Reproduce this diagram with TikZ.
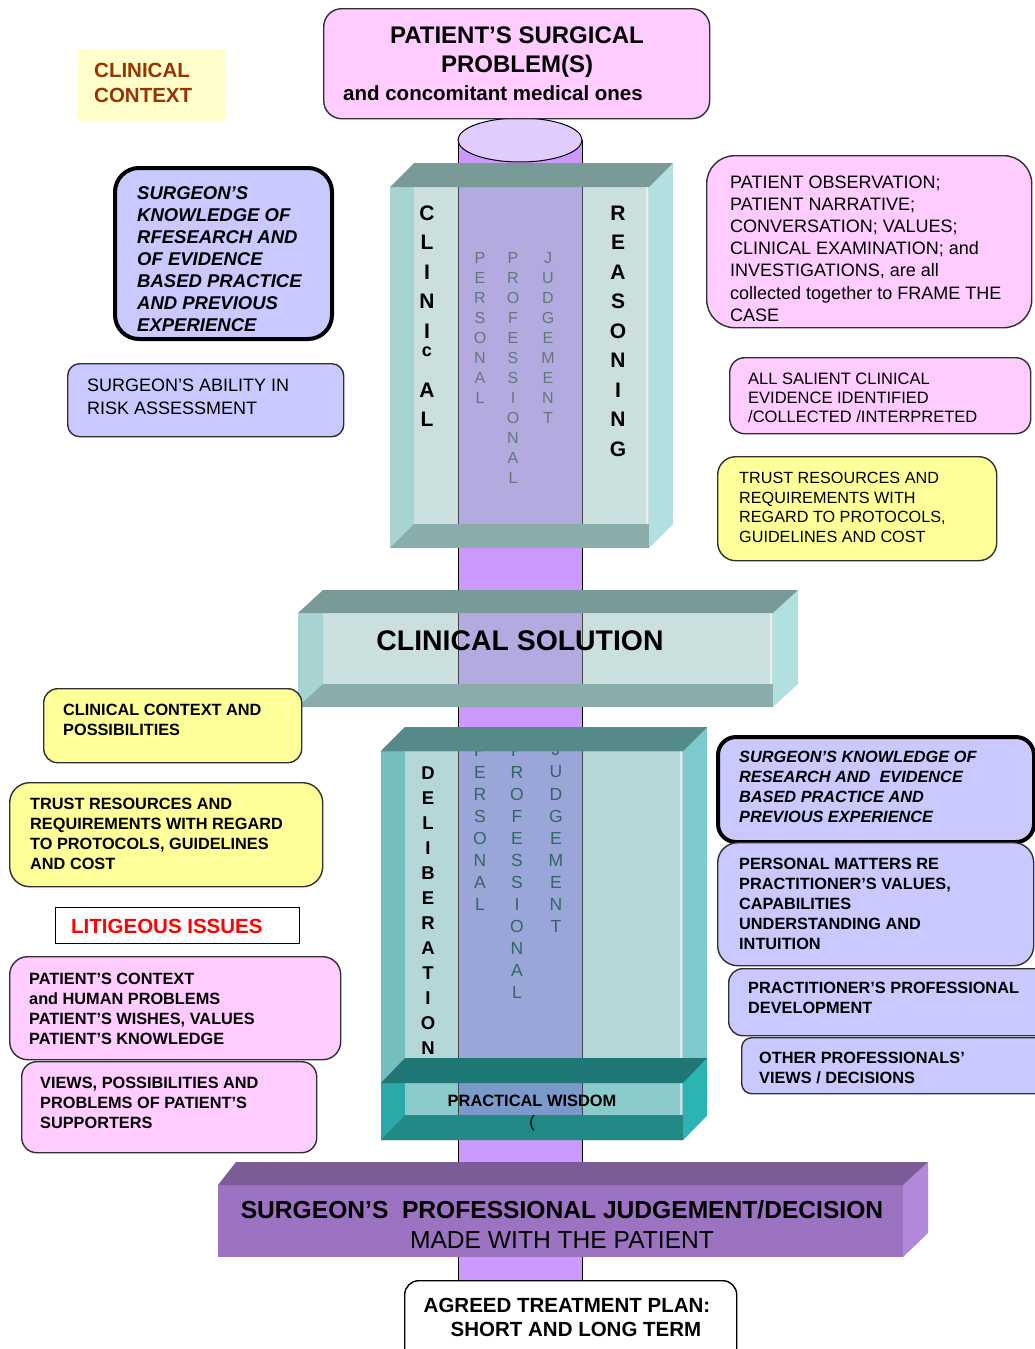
\documentclass[tikz,border=0pt]{standalone}
\usepackage{fontspec}
\setmainfont{Liberation Sans}

\definecolor{colPurple}{HTML}{CC99FF}
\definecolor{capPurple}{HTML}{E2CCFF}
\definecolor{colEdge}{HTML}{404848}
\definecolor{boxPink}{HTML}{FFCCFF}
\definecolor{boxLav}{HTML}{C9C9FF}
\definecolor{boxYel}{HTML}{FFFF99}
\definecolor{ctxYel}{HTML}{FFFFCC}
\definecolor{ctxRed}{HTML}{993300}
\definecolor{boxLine}{HTML}{303030}
\definecolor{crText}{HTML}{627878}
\definecolor{dlText}{HTML}{336666}
% clinical reasoning / solution slabs
\definecolor{crtop}{HTML}{7A9A98}
\definecolor{crside}{HTML}{B2E0E0}
\definecolor{crfront}{HTML}{CBDFDE}
\definecolor{crstrip}{HTML}{A8D3D3}
\definecolor{crbot}{HTML}{8AADAB}
\definecolor{crcol}{HTML}{B3ABDF}
% deliberation slab
\definecolor{dltop}{HTML}{558A88}
\definecolor{dlside}{HTML}{7CCACC}
\definecolor{dlfront}{HTML}{B5D7D7}
\definecolor{dlstrip}{HTML}{74BEBE}
\definecolor{dlbot}{HTML}{558A88}
\definecolor{dlcol}{HTML}{9AA5D8}
% practical wisdom slab
\definecolor{pwtop}{HTML}{1F7876}
\definecolor{pwside}{HTML}{2DB3B3}
\definecolor{pwfront}{HTML}{8CCBCB}
\definecolor{pwstrip}{HTML}{2BA9A8}
\definecolor{pwbot}{HTML}{218A87}
\definecolor{pwcol}{HTML}{7B9ACA}
% decision slab
\definecolor{dctop}{HTML}{7B5C97}
\definecolor{dcfront}{HTML}{9B73C1}
\definecolor{dcside}{HTML}{B089DB}

% #1 left, #2 top, #3 right, #4 bottom, #5 dx, #6 dy, #7 colour prefix
\newcommand{\slab}[7]{%
  \fill[#7front] (#1,#2) rectangle (#3,#4);
  \fill[#7col] (458,#2) rectangle (582,#4-#6);
  \draw[colEdge, line width=1pt] (458,#2) -- (458,#4-#6) (582,#2) -- (582,#4-#6);
  \fill[#7strip] (#1,#2) rectangle (#1+#5,#4);
  \fill[#7bot] (#1,#4) -- (#1+#5,#4-#6) -- (#3,#4-#6) -- (#3,#4) -- cycle;
  \draw[white, opacity=.5, line width=1.5pt] (#3-2,#2) -- (#3-2,#4-#6);
  \fill[#7side] (#3,#2) -- (#3+#5,#2-#6) -- (#3+#5,#4-#6) -- (#3,#4) -- cycle;
  \fill[#7top] (#1,#2) -- (#1+#5,#2-#6) -- (#3+#5,#2-#6) -- (#3,#2) -- cycle;
}

\begin{document}
\begin{tikzpicture}[x=1pt,y=-1pt]
 \tikzset{
 	box/.style={draw=boxLine, line width=1.4pt, anchor=north west, inner sep=0pt},
 	thickbox/.style={box, draw=black, line width=4pt},
 	pinkbox/.style={box, fill=boxPink},
 	lavbox/.style={box, fill=boxLav},
 	yelbox/.style={box, fill=boxYel},
 	boldtxt/.style={inner sep=0pt, anchor=west, align=left,
 		font=\fontsize{16.3}{20}\selectfont\bfseries},
 	plaintxt/.style={inner sep=0pt, anchor=west, align=left},
 	vbig/.style={inner sep=0pt, font=\fontsize{21}{21}\selectfont\bfseries},
 	vmid/.style={inner sep=0pt, font=\fontsize{18.5}{18.5}\selectfont\bfseries},
 	vsmall/.style={inner sep=0pt, text=crText, font=\fontsize{16}{16}\selectfont},
 	vdelib/.style={inner sep=0pt, text=dlText, font=\fontsize{17.5}{17.5}\selectfont}
 }
 \useasboundingbox (0,0) rectangle (1035,1349);
 \clip (0,0) rectangle (1035,1349);

 % central column
 \draw[fill=colPurple, line width=1pt] (458,140) rectangle (582,1290);
 \draw[fill=capPurple, line width=1pt] (520,140) ellipse [x radius=62pt, y radius=22pt];

 % clinical reasoning
 \slab{390}{187}{649}{548}{24}{24}{cr}
 \foreach \ch [count=\i from 0] in {C,L,I,N,I}
 	\node[vbig] (cl\i) at (427,213+29.5*\i) {\ch};
 \node[vbig, font=\fontsize{18}{18}\selectfont\bfseries] (clc) at (427,352) {c};
 \node[vbig] (cl5) at (427,390) {A};
 \node[vbig] (cl6) at (427,419) {L};
 \foreach \ch [count=\i from 0] in {R,E,A,S,O,N,I,N,G}
 	\node[vbig] (re\i) at (618,213+29.5*\i) {\ch};
 \foreach \ch [count=\i from 0] in {P,E,R,S,O,N,A,L}
 	\node[vsmall] (crPers\i) at (480,258+20*\i) {\ch};
 \foreach \ch [count=\i from 0] in {P,R,O,F,E,S,S,I,O,N,A,L}
 	\node[vsmall] (crProf\i) at (513,258+20*\i) {\ch};
 \foreach \ch [count=\i from 0] in {J,U,D,G,E,M,E,N,T}
 	\node[vsmall] (crJudg\i) at (548,258+20*\i) {\ch};

 % clinical solution
 \slab{298}{613}{773}{707}{25}{23}{cr}
 \node[inner sep=0pt, font=\fontsize{28.4}{30}\selectfont\bfseries] (sol) at (520,641) {CLINICAL SOLUTION};

 % deliberation
 \slab{381}{751}{683}{1140}{24}{24}{dl}
 \foreach \ch [count=\i from 0] in {D,E,L,I,B,E,R,A,T,I,O,N}
 	\node[vmid] (de\i) at (428,773+25*\i) {\ch};
 \foreach \ch [count=\i from 0] in {P,E,R,S,O,N,A,L}
 	\node[vdelib] (dlPers\i) at (480,750+22*\i) {\ch};
 \foreach \ch [count=\i from 0] in {P,R,O,F,E,S,S,I,O,N,A,L}
 	\node[vdelib] (dlProf\i) at (517,750+22*\i) {\ch};
 \foreach \ch [count=\i from 0] in {J,U,D,G,E,M,E,N,T}
 	\node[vdelib] (dlJudg\i) at (556,750+22*\i) {\ch};
 \fill[dltop] (381,751) -- (405,727) -- (707,727) -- (683,751) -- cycle;

 % practical wisdom
 \slab{381}{1083}{683}{1140}{24}{25}{pw}
 \node[inner sep=0pt, align=center, font=\fontsize{16.4}{21}\selectfont\bfseries] (wis) at (532,1113)
 	{PRACTICAL WISDOM\\{\mdseries (}};

 % decision
 \fill[dcfront] (218,1185) rectangle (903,1257);
 \fill[dcside] (903,1185) -- (928,1162) -- (928,1233) -- (903,1257) -- cycle;
 \fill[dctop] (218,1185) -- (236,1162) -- (928,1162) -- (903,1185) -- cycle;
 \node[inner sep=0pt, align=center, font=\fontsize{24.6}{30}\selectfont] (dec) at (562,1225)
 	{\bfseries SURGEON'S\ \ PROFESSIONAL JUDGEMENT/DECISION\\MADE WITH THE PATIENT};

 % agreed plan
 \node[box, draw=black, fill=white, rounded corners=14pt, minimum width=332pt, minimum height=95pt] (plan) at (404,1280) {};
 \node[inner sep=0pt, align=center, font=\fontsize{20.5}{24}\selectfont\bfseries] (planText) at (567,1317)
 	{AGREED TREATMENT PLAN:\\\hspace*{18pt}SHORT AND LONG TERM};

 % patient's problem
 \node[pinkbox, rounded corners=18pt, minimum width=386pt, minimum height=110pt] (prob) at (323,8) {};
 \node[inner sep=0pt, align=center, font=\fontsize{24}{29}\selectfont\bfseries] (probTitle) at (517,52)
 	{PATIENT'S SURGICAL\\PROBLEM(S)};
 \node[inner sep=0pt, font=\fontsize{20.5}{24}\selectfont\bfseries] (probSub) at (493,93) {and concomitant medical ones};

 % left column
 \node[anchor=north west, fill=ctxYel, minimum width=148pt, minimum height=73pt, inner sep=0pt] (ctx) at (78,49) {};
 \node[plaintxt, text=ctxRed, font=\fontsize{20.5}{25}\selectfont\bfseries] (ctxText) at (94,83) {CLINICAL\\CONTEXT};

 \node[thickbox, fill=boxLav, rounded corners=24pt, minimum width=217pt, minimum height=171pt] (know) at (113,166) {};
 \node[plaintxt, font=\fontsize{18.5}{22}\selectfont\bfseries\itshape] (knowText) at (137,259.5)
 	{SURGEON'S\\KNOWLEDGE OF\\RFESEARCH AND\\OF EVIDENCE\\BASED PRACTICE\\AND PREVIOUS\\EXPERIENCE};

 \node[lavbox, rounded corners=12pt, minimum width=276pt, minimum height=73pt] (risk) at (67,363) {};
 \node[plaintxt, font=\fontsize{18}{23}\selectfont] (riskText) at (87,396.5)
 	{SURGEON'S ABILITY IN\\RISK ASSESSMENT};

 \node[yelbox, rounded corners=14pt, minimum width=258pt, minimum height=74pt] (poss) at (43,688) {};
 \node[boldtxt] (possText) at (63,720) {CLINICAL CONTEXT AND\\POSSIBILITIES};

 \node[yelbox, rounded corners=20pt, minimum width=313pt, minimum height=104pt] (trustL) at (9,782) {};
 \node[boldtxt] (trustLText) at (30,834)
 	{TRUST RESOURCES AND\\REQUIREMENTS WITH REGARD\\TO PROTOCOLS, GUIDELINES\\AND COST};

 \node[box, draw=black, fill=white, minimum width=244pt, minimum height=36pt] (lit) at (55,907) {};
 \node[plaintxt, text=red, font=\fontsize{20.5}{24}\selectfont\bfseries] (litText) at (71,926.5) {LITIGEOUS ISSUES};

 \node[pinkbox, rounded corners=18pt, minimum width=331pt, minimum height=103pt] (pctx) at (9,956) {};
 \node[boldtxt] (pctxText) at (29,1009)
 	{PATIENT'S CONTEXT\\and HUMAN PROBLEMS\\PATIENT'S WISHES, VALUES\\PATIENT'S KNOWLEDGE};

 \node[pinkbox, rounded corners=15pt, minimum width=295pt, minimum height=91pt] (supp) at (21,1061) {};
 \node[boldtxt] (suppText) at (40,1102.5)
 	{VIEWS, POSSIBILITIES AND\\PROBLEMS OF PATIENT'S\\SUPPORTERS};

 % right column
 \node[pinkbox, rounded corners=28pt, minimum width=325pt, minimum height=172pt] (obs) at (706,155) {};
 \node[plaintxt, font=\fontsize{18}{22.2}\selectfont] (obsText) at (730,248.5)
 	{PATIENT OBSERVATION;\\PATIENT NARRATIVE;\\CONVERSATION; VALUES;\\CLINICAL EXAMINATION; and\\INVESTIGATIONS, are all\\collected together to FRAME THE\\CASE};

 \node[pinkbox, rounded corners=15pt, minimum width=301pt, minimum height=76pt] (sal) at (729,357) {};
 \node[plaintxt, font=\fontsize{16.5}{19}\selectfont] (salText) at (748,398)
 	{ALL SALIENT CLINICAL\\EVIDENCE IDENTIFIED\\/COLLECTED /INTERPRETED};

 \node[yelbox, rounded corners=18pt, minimum width=279pt, minimum height=104pt] (trustR) at (717,456) {};
 \node[plaintxt, font=\fontsize{16.2}{19.7}\selectfont] (trustRText) at (739,507.5)
 	{TRUST RESOURCES AND\\REQUIREMENTS WITH\\REGARD TO PROTOCOLS,\\GUIDELINES AND COST};

 \node[thickbox, fill=boxLav, rounded corners=18pt, minimum width=316pt, minimum height=105pt] (res) at (716,735) {};
 \node[boldtxt, font=\fontsize{16.3}{20}\selectfont\bfseries\itshape] (resText) at (739,787)
 	{SURGEON'S KNOWLEDGE OF\\RESEARCH AND\ \ EVIDENCE\\BASED PRACTICE AND\\PREVIOUS EXPERIENCE};

 \node[lavbox, rounded corners=20pt, minimum width=316pt, minimum height=123pt] (pers) at (717,842) {};
 \node[boldtxt] (persText) at (739,903.5)
 	{PERSONAL MATTERS RE\\PRACTITIONER'S VALUES,\\CAPABILITIES\\UNDERSTANDING AND\\INTUITION};

 \node[lavbox, rounded corners=14pt, minimum width=330pt, minimum height=67pt] (dev) at (728,968) {};
 \node[boldtxt] (devText) at (748,998) {PRACTITIONER'S PROFESSIONAL\\DEVELOPMENT};

 \node[lavbox, rounded corners=10pt, minimum width=320pt, minimum height=56pt] (oth) at (741,1037) {};
 \node[boldtxt] (othText) at (759,1068) {OTHER PROFESSIONALS'\\VIEWS / DECISIONS};
\end{tikzpicture}
\end{document}
